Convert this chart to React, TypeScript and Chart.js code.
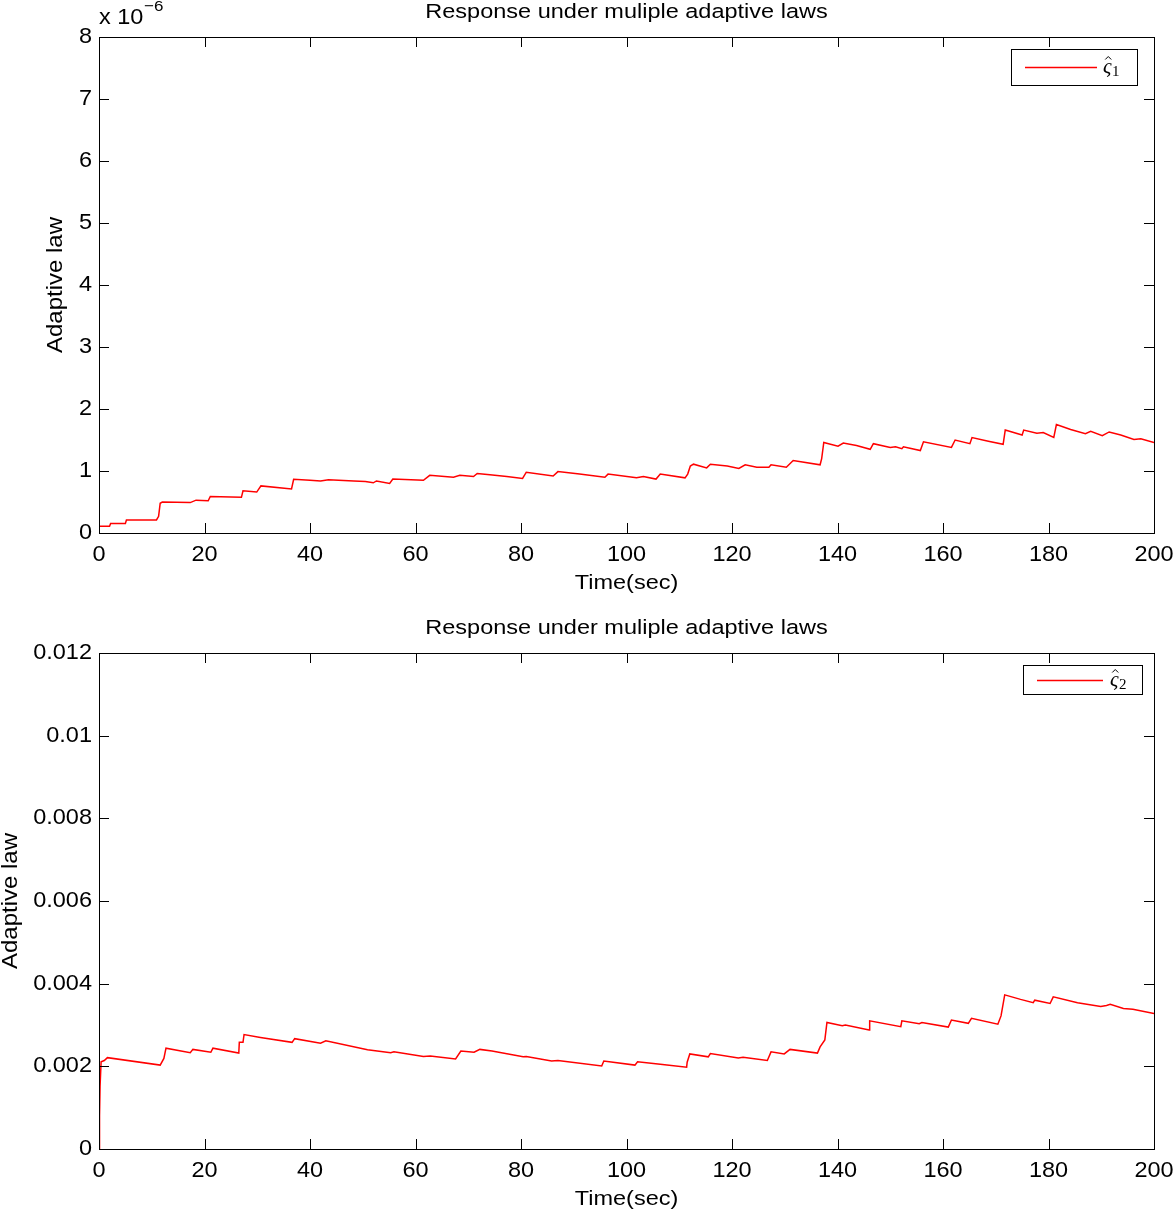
import React, { useEffect, useRef } from "react";
import { Chart, registerables } from "chart.js";

Chart.register(...registerables);

// ---------- data ----------
const chartTitle = "Response under muliple adaptive laws";
const xAxisLabel = "Time(sec)";
const yAxisLabel = "Adaptive law";

const xTicks = [0, 20, 40, 60, 80, 100, 120, 140, 160, 180, 200];
const xTickLabels = ["0", "20", "40", "60", "80", "100", "120", "140", "160", "180", "200"];

// top panel (values in units of 1e-6)
const topYTicks = [0, 1, 2, 3, 4, 5, 6, 7, 8];
const topYTickLabels = ["0", "1", "2", "3", "4", "5", "6", "7", "8"];
const topTime = [
  0, 2.0, 2.2, 5.0, 5.2, 10.9, 11.3, 11.6, 12.0, 17.3, 18.4, 20.7, 21.1, 27.0, 27.3, 29.9, 30.7, 36.5, 36.9,
  40.0, 42.0, 43.5, 48.3, 50.5, 52.0, 52.6, 55.1, 55.7, 61.5, 62.7, 67.2, 68.4, 71.0, 71.7, 74.1, 77.3,
  80.3, 81.0, 86.1, 87.0, 91.1, 95.9, 96.5, 101.9, 103.2, 105.6, 106.4, 111.1, 111.6, 112.1, 112.7, 115.2,
  115.9, 119.1, 121.3, 122.5, 124.7, 127.0, 127.4, 130.3, 131.6, 136.7, 137.0, 137.4, 140.1, 141.1, 143.6,
  146.2, 146.8, 150.0, 151.0, 152.2, 152.5, 155.7, 156.3, 161.6, 162.3, 165.1, 165.5, 168.6, 171.4, 171.8,
  175.0, 175.3, 177.8, 179.0, 181.0, 181.5, 184.2, 187.0, 188.0, 190.2, 191.5, 193.7, 196.2, 197.5, 200.0,
];
const topValue = [
  0.11, 0.11, 0.155, 0.155, 0.21, 0.21, 0.27, 0.48, 0.50, 0.49, 0.53, 0.52, 0.59, 0.575, 0.68, 0.66, 0.76, 0.71, 0.865,
  0.85, 0.84, 0.86, 0.84, 0.83, 0.81, 0.84, 0.80, 0.87, 0.85, 0.93, 0.90, 0.93, 0.91, 0.96, 0.94, 0.91,
  0.88, 0.98, 0.92, 0.99, 0.95, 0.90, 0.95, 0.89, 0.91, 0.87, 0.95, 0.89, 0.95, 1.08, 1.11, 1.05,
  1.11, 1.08, 1.04, 1.10, 1.06, 1.06, 1.10, 1.06, 1.17, 1.10, 1.20, 1.46, 1.40, 1.45, 1.41,
  1.35, 1.44, 1.38, 1.39, 1.36, 1.39, 1.33, 1.47, 1.38, 1.50, 1.44, 1.54, 1.48, 1.43, 1.66,
  1.58, 1.66, 1.61, 1.62, 1.54, 1.75, 1.67, 1.60, 1.64, 1.57, 1.63, 1.58, 1.51, 1.52, 1.46,
];

// bottom panel
const botYTicks = [0, 0.002, 0.004, 0.006, 0.008, 0.01, 0.012];
const botYTickLabels = ["0", "0.002", "0.004", "0.006", "0.008", "0.01", "0.012"];
const botTime = [
  0, 0.1, 0.2, 0.4, 1.0, 1.6, 11.6, 12.3, 12.7, 17.3, 17.8, 21.2, 21.6, 26.5, 26.6, 27.3, 27.5, 30.6, 36.6, 37.1,
  42.0, 43.0, 50.9, 55.3, 55.9, 61.5, 62.8, 67.6, 68.6, 71.1, 72.2, 74.5, 80.4, 81.0, 85.8, 87.0, 95.3, 95.7,
  101.6, 102.1, 106.4, 111.4, 111.5, 112.0, 115.5, 115.9, 121.2, 122.1, 126.7, 127.4, 129.9, 131.0, 136.2,
  136.7, 137.6, 138.0, 140.9, 141.5, 146.0, 146.1, 152.0, 152.2, 155.5, 156.0, 161.0, 161.6, 164.8, 165.4,
  170.4, 171.0, 171.7, 174.7, 177.1, 177.4, 180.3, 180.9, 185.5, 189.9, 191.0, 191.7, 194.2, 196.0, 200.0,
];
const botValue = [
  0, 0.0008, 0.00151, 0.00211, 0.00214, 0.00221, 0.00203, 0.00219, 0.00244, 0.00233, 0.00241, 0.00234, 0.00244,
  0.00232, 0.00258, 0.00258, 0.00277, 0.0027, 0.00258, 0.00267,
  0.00256, 0.00262, 0.0024, 0.00233, 0.00235, 0.00224, 0.00225, 0.00218, 0.00237, 0.00234, 0.00241, 0.00237,
  0.00223, 0.00224, 0.00213, 0.00214, 0.00201, 0.00213,
  0.00203, 0.00211, 0.00205, 0.00198, 0.0021, 0.0023, 0.00223, 0.00231, 0.0022, 0.00222, 0.00214, 0.00235,
  0.0023, 0.00241, 0.00232,
  0.00247, 0.00264, 0.00306, 0.00298, 0.003, 0.00288, 0.0031, 0.00296, 0.0031, 0.00303, 0.00306, 0.00295,
  0.00312, 0.00304, 0.00316,
  0.00302, 0.00322, 0.00373, 0.00362, 0.00354, 0.0036, 0.00352, 0.00368, 0.00354, 0.00345, 0.00347, 0.0035,
  0.0034, 0.00338, 0.00328,
];

const FONT = "'Liberation Sans', Arial, Helvetica, sans-serif";
const SERIF = "'Liberation Serif', 'DejaVu Serif', serif";
const FS = 23.5;
const VS = 0.9;

type PanelCfg = {
  time: number[];
  value: number[];
  yTicks: number[];
  yTickLabels: string[];
  yMax: number;
  legendSub: string;
  exponent: boolean;
  padTop: number;
  xAxisHeight: number;
  titleY: number;
  xTickY: number;
  xLabelY: number;
  yLabelX: number;
  legend: { x: number; y: number; w: number; h: number; lx1: number; lx2: number; sx: number };
};

function txt(
  ctx: CanvasRenderingContext2D,
  s: string,
  x: number,
  y: number,
  align: CanvasTextAlign,
  size: number,
  vs: number,
  family = FONT
) {
  ctx.save();
  ctx.translate(x, y);
  ctx.scale(1, vs);
  ctx.font = `${size}px ${family}`;
  ctx.textAlign = align;
  ctx.textBaseline = "middle";
  ctx.fillText(s, 0, 0);
  ctx.restore();
}

function Panel({ cfg, top }: { cfg: PanelCfg; top: number }) {
  const ref = useRef<HTMLCanvasElement | null>(null);
  useEffect(() => {
    const canvas = ref.current!;
    const decor = {
      id: "matlabDecor",
      afterDraw(chart: any) {
        const ctx = chart.ctx as CanvasRenderingContext2D;
        const a = chart.chartArea;
        const xs = chart.scales.x;
        const ys = chart.scales.y;
        ctx.save();
        ctx.strokeStyle = "#000";
        ctx.lineWidth = 1;
        ctx.strokeRect(Math.round(a.left) + 0.5, Math.round(a.top) + 0.5, Math.round(a.right - a.left), Math.round(a.bottom - a.top));
        const TL = 10;
        ctx.beginPath();
        xTicks.forEach((t) => {
          const px = Math.round(xs.getPixelForValue(t)) + 0.5;
          ctx.moveTo(px, a.bottom);
          ctx.lineTo(px, a.bottom - TL);
          ctx.moveTo(px, a.top);
          ctx.lineTo(px, a.top + TL);
        });
        cfg.yTicks.forEach((v) => {
          const py = Math.round(ys.getPixelForValue(v)) + 0.5;
          ctx.moveTo(a.left, py);
          ctx.lineTo(a.left + TL, py);
          ctx.moveTo(a.right, py);
          ctx.lineTo(a.right - TL, py);
        });
        ctx.stroke();
        ctx.fillStyle = "#000";
        // tick labels
        xTicks.forEach((t, i) => {
          txt(ctx, xTickLabels[i], xs.getPixelForValue(t), cfg.xTickY, "center", FS, VS);
        });
        cfg.yTicks.forEach((v, i) => {
          txt(ctx, cfg.yTickLabels[i], a.left - 7, ys.getPixelForValue(v), "right", FS, VS);
        });
        // title and axis labels
        const cx = (a.left + a.right) / 2;
        txt(ctx, chartTitle, cx, cfg.titleY, "center", 23.5, 0.88);
        txt(ctx, xAxisLabel, cx, cfg.xLabelY, "center", 23.5, 0.88);
        ctx.save();
        ctx.translate(cfg.yLabelX, (a.top + a.bottom) / 2);
        ctx.rotate(-Math.PI / 2);
        txt(ctx, yAxisLabel, 0, 0, "center", 24, 0.95);
        ctx.restore();
        if (cfg.exponent) {
          txt(ctx, "x 10", 99, 18, "left", FS, VS);
          txt(ctx, "\u22126", 144, 7, "left", 17, VS);
        }
        // legend
        const L = cfg.legend;
        ctx.fillStyle = "#fff";
        ctx.fillRect(L.x, L.y, L.w, L.h);
        ctx.strokeStyle = "#000";
        ctx.lineWidth = 1;
        ctx.strokeRect(L.x + 0.5, L.y + 0.5, L.w, L.h);
        ctx.strokeStyle = "rgb(255,0,0)";
        ctx.lineWidth = 1.3;
        const ly = Math.round(L.y + L.h / 2) + 0.5;
        ctx.beginPath();
        ctx.moveTo(L.lx1, ly);
        ctx.lineTo(L.lx2, ly);
        ctx.stroke();
        // symbol: hat varsigma with subscript
        ctx.fillStyle = "#000";
        const base = ly + 5;
        ctx.font = `italic 21px ${SERIF}`;
        ctx.textAlign = "left";
        ctx.textBaseline = "alphabetic";
        ctx.fillText("\u03c2", L.sx, base);
        const cw = ctx.measureText("\u03c2").width;
        const hx = L.sx + cw / 2 + 1;
        ctx.strokeStyle = "#000";
        ctx.lineWidth = 1;
        ctx.beginPath();
        ctx.moveTo(hx - 3, base - 13);
        ctx.lineTo(hx, base - 16);
        ctx.lineTo(hx + 3, base - 13);
        ctx.stroke();
        ctx.font = `15px ${SERIF}`;
        ctx.fillText(cfg.legendSub, L.sx + cw + 0.5, base + 3);
        ctx.restore();
      },
    };
    const chart = new Chart(canvas, {
      type: "line",
      data: {
        datasets: [
          {
            data: cfg.time.map((t, i) => ({ x: t, y: cfg.value[i] })),
            borderColor: "#ff0000",
            borderWidth: 1.5,
            pointRadius: 0,
            tension: 0,
            fill: false,
          },
        ],
      },
      options: {
        animation: false,
        responsive: false,
        maintainAspectRatio: false,
        layout: { padding: { left: 0, right: 19, top: cfg.padTop, bottom: 0 } },
        plugins: { legend: { display: false }, title: { display: false }, tooltip: { enabled: false } },
        scales: {
          x: {
            type: "linear",
            min: 0,
            max: 200,
            afterBuildTicks: (axis: any) => {
              axis.ticks = xTicks.map((v) => ({ value: v }));
            },
            afterFit: (axis: any) => {
              axis.height = cfg.xAxisHeight;
              axis.paddingLeft = 0;
              axis.paddingRight = 0;
            },
            grid: { display: false, drawTicks: false },
            border: { display: false },
            ticks: { display: false },
          },
          y: {
            type: "linear",
            min: 0,
            max: cfg.yMax,
            afterBuildTicks: (axis: any) => {
              axis.ticks = cfg.yTicks.map((v) => ({ value: v }));
            },
            afterFit: (axis: any) => {
              axis.width = 99;
              axis.paddingTop = 0;
              axis.paddingBottom = 0;
            },
            grid: { display: false, drawTicks: false },
            border: { display: false },
            ticks: { display: false },
          },
        },
      },
      plugins: [decor],
    } as any);
    return () => chart.destroy();
  }, [cfg]);
  return (
    <canvas
      ref={ref}
      width={1173}
      height={606}
      style={{ position: "absolute", left: 0, top, width: 1173, height: 606, display: "block" }}
    />
  );
}

const topCfg: PanelCfg = {
  time: topTime,
  value: topValue,
  yTicks: topYTicks,
  yTickLabels: topYTickLabels,
  yMax: 8,
  legendSub: "1",
  exponent: true,
  padTop: 37,
  xAxisHeight: 73,
  titleY: 12,
  xTickY: 555,
  xLabelY: 583,
  yLabelX: 56,
  legend: { x: 1011, y: 49, w: 126, h: 36, lx1: 1025, lx2: 1097, sx: 1103 },
};

const botCfg: PanelCfg = {
  time: botTime,
  value: botValue,
  yTicks: botYTicks,
  yTickLabels: botYTickLabels,
  yMax: 0.012,
  legendSub: "2",
  exponent: false,
  padTop: 47,
  xAxisHeight: 63,
  titleY: 22,
  xTickY: 565,
  xLabelY: 593,
  yLabelX: 11,
  legend: { x: 1023, y: 665, w: 119, h: 29, lx1: 1037, lx2: 1103, sx: 1110 },
};

export default function App() {
  const bot = { ...botCfg, legend: { ...botCfg.legend, y: botCfg.legend.y - 606 } };
  return (
    <div style={{ position: "absolute", left: 0, top: 0, width: 1173, height: 1212, background: "#fff" }}>
      <Panel cfg={topCfg} top={0} />
      <Panel cfg={bot} top={606} />
    </div>
  );
}
